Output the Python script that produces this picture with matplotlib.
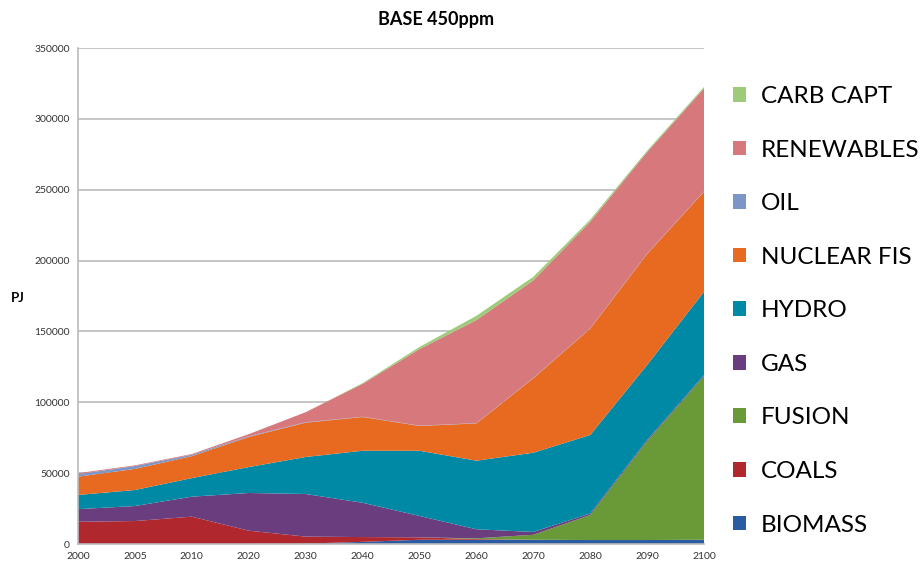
import matplotlib.pyplot as plt
import numpy as np

# 数据（PJ），按堆叠顺序从下往上
years = ['2000', '2005', '2010', '2020', '2030', '2040', '2050', '2060', '2070', '2080', '2090', '2100']
biomass = [0, 0, 0, 0, 300, 1500, 3000, 3000, 3000, 2800, 2800, 3000]
coals = [15700, 16200, 19300, 9400, 4900, 3400, 1700, 500, 0, 0, 0, 0]
fusion = [0, 0, 0, 0, 0, 0, 0, 500, 3500, 17700, 69700, 115500]
gas = [8900, 10600, 14100, 26600, 30100, 24200, 15100, 6400, 2000, 1000, 900, 700]
hydro = [10000, 11300, 13100, 18300, 26100, 36700, 46000, 48400, 55900, 55400, 52900, 58800]
nuclear = [12900, 14900, 15500, 21200, 24200, 23800, 17500, 26300, 52500, 75100, 78300, 70600]
oil = [1800, 2000, 1000, 500, 300, 200, 200, 200, 200, 200, 200, 200]
renewables = [700, 500, 500, 1500, 7100, 23200, 54000, 72700, 68900, 75200, 71700, 72700]
carb_capt = [0, 0, 0, 0, 0, 500, 1500, 3000, 2500, 1500, 1000, 1000]

labels = ['BIOMASS', 'COALS', 'FUSION', 'GAS', 'HYDRO', 'NUCLEAR FIS', 'OIL', 'RENEWABLES', 'CARB CAPT']
colors = ['#2B5CA3', '#B0282E', '#6A9A37', '#6A3D7E', '#0089A5', '#E86A21', '#7C96C8', '#D6787C', '#9DCB7A']

plt.rcParams['font.family'] = ['Lato', 'DejaVu Sans']

fig = plt.figure(figsize=(9.24, 5.68), dpi=100)
ax = fig.add_axes([78/924, 24/568, 626/924, 496/568])

x = np.arange(len(years))
ax.stackplot(x, biomass, coals, fusion, gas, hydro, nuclear, oil, renewables, carb_capt,
             labels=labels, colors=colors, linewidth=0, zorder=2)

ax.set_xlim(0, len(years) - 1)
ax.set_ylim(0, 350000)
ax.set_xticks(x)
ax.set_xticklabels(years)
ax.set_yticks(np.arange(0, 350001, 50000))
ax.tick_params(length=0, labelsize=7.5, labelcolor='#333333', pad=6)
ax.yaxis.grid(True, color='#BBBBBB', linewidth=1.2, zorder=0)
ax.set_axisbelow(True)
for s in ['top', 'right']:
    ax.spines[s].set_visible(False)
for s in ['left', 'bottom']:
    ax.spines[s].set_color('#BBBBBB')
    ax.spines[s].set_linewidth(1.2)

# 标题和纵轴单位
fig.text(436/924, 1 - 20/568, 'BASE 450ppm', ha='center', va='center', fontsize=13, fontweight='bold')
fig.text(18/924, 1 - 298/568, 'PJ', ha='center', va='center', fontsize=9.5, fontweight='bold')

# 图例（倒序，CARB CAPT 在最上面）
handles, labs = ax.get_legend_handles_labels()
leg = fig.legend(handles[::-1], labs[::-1], loc='upper left', bbox_to_anchor=(733/924, 1 - 86/568),
                 frameon=False, fontsize=17.5, handlelength=0.55, handleheight=0.55,
                 handletextpad=0.6, labelspacing=1.34, borderaxespad=0, borderpad=0)

plt.savefig('out.png', dpi=100)
